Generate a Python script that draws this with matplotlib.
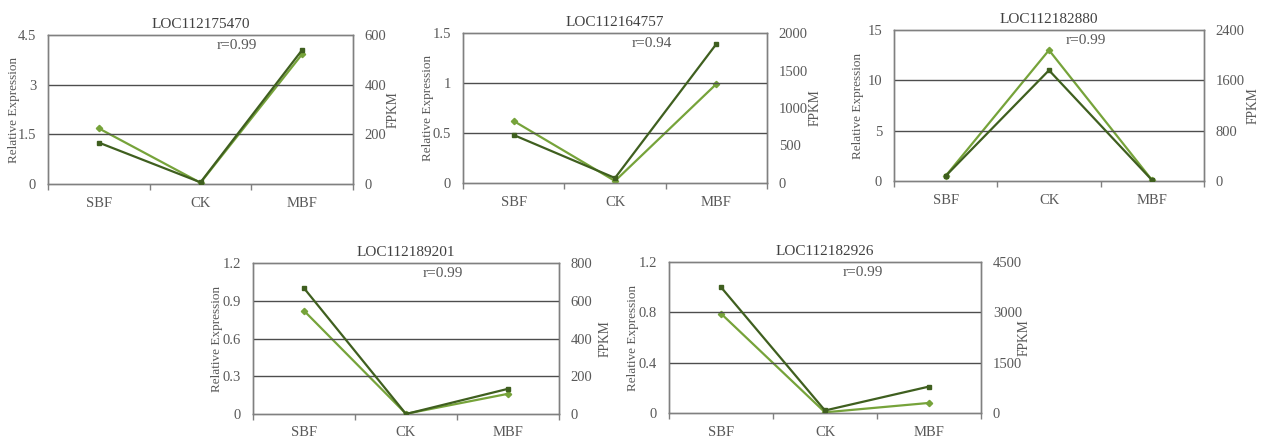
import matplotlib
matplotlib.use("Agg")
import matplotlib.pyplot as plt

categories = ["SBF", "CK", "MBF"]

genes = ["LOC112175470", "LOC112164757", "LOC112182880", "LOC112189201", "LOC112182926"]
r_values = ["r=0.99", "r=0.94", "r=0.99", "r=0.99", "r=0.99"]

rel_expr = [
    [1.25, 0.05, 4.05],
    [0.48, 0.05, 1.39],
    [0.50, 11.0, 0.05],
    [1.00, 0.00, 0.20],
    [1.00, 0.02, 0.21],
]
fpkm = [
    [224, 5, 523],
    [827, 27, 1320],
    [80, 2080, 8],
    [547, 1, 107],
    [2963, 20, 300],
]

left_ticks = [
    [0, 1.5, 3, 4.5],
    [0, 0.5, 1, 1.5],
    [0, 5, 10, 15],
    [0, 0.3, 0.6, 0.9, 1.2],
    [0, 0.4, 0.8, 1.2],
]
left_labels = [
    ["0", "1.5", "3", "4.5"],
    ["0", "0.5", "1", "1.5"],
    ["0", "5", "10", "15"],
    ["0", "0.3", "0.6", "0.9", "1.2"],
    ["0", "0.4", "0.8", "1.2"],
]
right_ticks = [
    [0, 200, 400, 600],
    [0, 500, 1000, 1500, 2000],
    [0, 800, 1600, 2400],
    [0, 200, 400, 600, 800],
    [0, 1500, 3000, 4500],
]

# layout (pixels): left, top, width, height of each plot area
positions = [
    (48, 35, 305, 149),
    (463, 33, 304, 150),
    (894, 30, 310, 151),
    (253, 263, 306, 151),
    (669, 262, 312, 151),
]
left_label_off = [-34, -35, -36, -36, -36]
right_label_off = [40, 48, 49, 46, 43]

W, H = 1263, 442
DARK = "#3f5f1f"
LIGHT = "#76a33a"
TXT = "#595959"
GRID = "#4d4d4d"
SPINE = "#808080"
SERIF = ["Liberation Serif", "DejaVu Serif"]

fig = plt.figure(figsize=(W / 100, H / 100), dpi=100)

for i in range(5):
    x0, y0, w, h = positions[i]
    ax = fig.add_axes([x0 / W, 1 - (y0 + h) / H, w / W, h / H])
    ax2 = ax.twinx()
    xs = list(range(len(categories)))
    ax.set_xlim(-0.5, 2.5)
    ax.set_ylim(left_ticks[i][0], left_ticks[i][-1])
    ax2.set_ylim(right_ticks[i][0], right_ticks[i][-1])

    for yv in left_ticks[i][1:-1]:
        ax.axhline(yv, color=GRID, lw=1.0, zorder=1)

    ax.plot(xs, rel_expr[i], color=DARK, lw=1.6, marker="s", ms=3.5, zorder=5)
    ax2.plot(xs, fpkm[i], color=LIGHT, lw=1.6, marker="D", ms=3.2, zorder=4)
    ax.set_zorder(ax2.get_zorder() + 1)
    ax.patch.set_visible(False)

    ax.set_yticks(left_ticks[i])
    ax.set_yticklabels(left_labels[i])
    ax2.set_yticks(right_ticks[i])
    ax2.set_yticklabels([str(v) for v in right_ticks[i]])

    ax.set_xticks([-0.5, 0.5, 1.5, 2.5])
    ax.set_xticklabels([])
    ax.set_xticks(xs, minor=True)
    ax.set_xticklabels(categories, minor=True)
    ax.tick_params(axis="x", which="major", length=4, width=1, color=SPINE, direction="out")
    ax.tick_params(axis="x", which="minor", length=0, pad=9, labelsize=10.5, labelcolor=TXT)
    ax.tick_params(axis="y", length=0, pad=8.5, labelsize=10.5, labelcolor=TXT)
    ax2.tick_params(axis="y", length=0, pad=8.5, labelsize=10.5, labelcolor=TXT)

    for a in (ax, ax2):
        for sp in a.spines.values():
            sp.set_color(SPINE)
            sp.set_linewidth(1.0)
        for lab in a.get_xticklabels(which="both") + a.get_yticklabels():
            lab.set_fontfamily(SERIF)

    ax.set_ylabel("Relative Expression", fontsize=9.5, color=TXT, family=SERIF,
                  va="center", ha="center")
    ax.yaxis.set_label_coords(left_label_off[i] / w, 0.5)
    ax2.set_ylabel("FPKM", fontsize=9.8, color=TXT, family=SERIF,
                   va="center", ha="center")
    ax2.yaxis.set_label_coords(1 + right_label_off[i] / w, 0.5)
    ax.set_title(genes[i], fontsize=11, color="#404040", family=SERIF, pad=5)
    ax.text(0.62, 0.93, r_values[i], transform=ax.transAxes, ha="center", va="center",
            fontsize=11, color=TXT, family=SERIF)

fig.savefig("out.png", dpi=100)
